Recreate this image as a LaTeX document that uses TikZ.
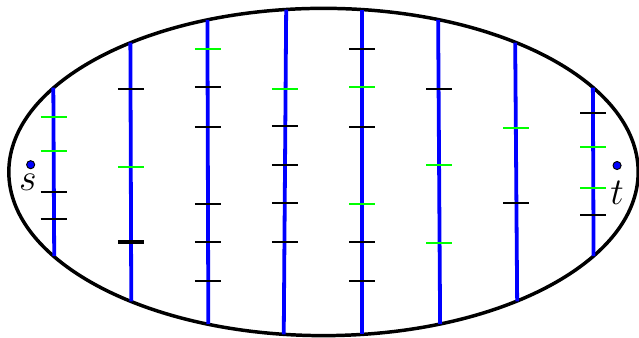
\documentclass[tikz,border=0pt]{standalone}
\usetikzlibrary{positioning}
\tikzstyle{region}=[line width=1.1pt]
\tikzstyle{cut}=[blue, line width=1.2pt]
\tikzstyle{blacktick}=[black, line width=0.75pt]
\tikzstyle{greentick}=[green, line width=0.85pt]
\tikzstyle{vertex}=[circle, draw, fill=blue, inner sep=0pt, minimum size=0.9mm, line width=0.3pt]
\tikzstyle{term}=[inner sep=0pt, font=\large]

\begin{document}
\begin{tikzpicture}

    \useasboundingbox (-3.598,-1.846) rectangle (3.509,1.913);

    \draw[region] (0,0) ellipse (3.5 and 1.82);

    % TERMINALS
    \node[vertex] (s) at (-3.257,0.081) {};
    \node[term, below=0.045cm of s, xshift=-0.3mm] (sLabel) {$s$};
    \node[vertex] (t) at (3.265,0.072) {};
    \node[term, below=0.12cm of t] (tLabel) {$t$};

    % LINE 1
    \draw[cut] (-3.005,0.937) -- (-2.995,-0.937);
    \foreach \y in {0.612,0.234} \draw[greentick] (-3.145,\y) -- ++(0.29,0);
    \foreach \y in {-0.222,-0.523} \draw[blacktick] (-3.145,\y) -- ++(0.29,0);

    % LINE 2
    \draw[cut] (-2.148,1.439) -- (-2.138,-1.439);
    \foreach \y in {0.056} \draw[greentick] (-2.288,\y) -- ++(0.29,0);
    \foreach \y in {0.923} \draw[blacktick] (-2.288,\y) -- ++(0.29,0);
    \draw[blacktick, line width=1.1pt] (-2.288,-0.779) -- ++(0.29,0);

    % LINE 3
    \draw[cut] (-1.291,1.693) -- (-1.281,-1.693);
    \foreach \y in {1.368} \draw[greentick] (-1.431,\y) -- ++(0.29,0);
    \foreach \y in {0.945,0.5,-0.356,-0.779,-1.212} \draw[blacktick] (-1.431,\y) -- ++(0.29,0);

    % LINE 4
    \draw[cut] (-0.415,1.806) -- (-0.442,-1.806);
    \foreach \y in {0.923} \draw[greentick] (-0.573,\y) -- ++(0.29,0);
    \foreach \y in {0.512,0.078,-0.345,-0.779} \draw[blacktick] (-0.573,\y) -- ++(0.29,0);

    % LINE 5
    \draw[cut] (0.429,1.806) -- (0.429,-1.806);
    \foreach \y in {0.945,-0.356} \draw[greentick] (0.284,\y) -- ++(0.29,0);
    \foreach \y in {1.368,0.5,-0.779,-1.212} \draw[blacktick] (0.284,\y) -- ++(0.29,0);

    % LINE 6
    \draw[cut] (1.275,1.693) -- (1.297,-1.693);
    \foreach \y in {0.078,-0.79} \draw[greentick] (1.141,\y) -- ++(0.29,0);
    \foreach \y in {0.923} \draw[blacktick] (1.141,\y) -- ++(0.29,0);

    % LINE 7
    \draw[cut] (2.132,1.439) -- (2.154,-1.439);
    \foreach \y in {0.489} \draw[greentick] (1.998,\y) -- ++(0.29,0);
    \foreach \y in {-0.345} \draw[blacktick] (1.998,\y) -- ++(0.29,0);

    % LINE 8
    \draw[cut] (2.996,0.937) -- (3.004,-0.937);
    \foreach \y in {0.278,-0.178} \draw[greentick] (2.855,\y) -- ++(0.29,0);
    \foreach \y in {0.656,-0.478} \draw[blacktick] (2.855,\y) -- ++(0.29,0);

\end{tikzpicture}
\end{document}
